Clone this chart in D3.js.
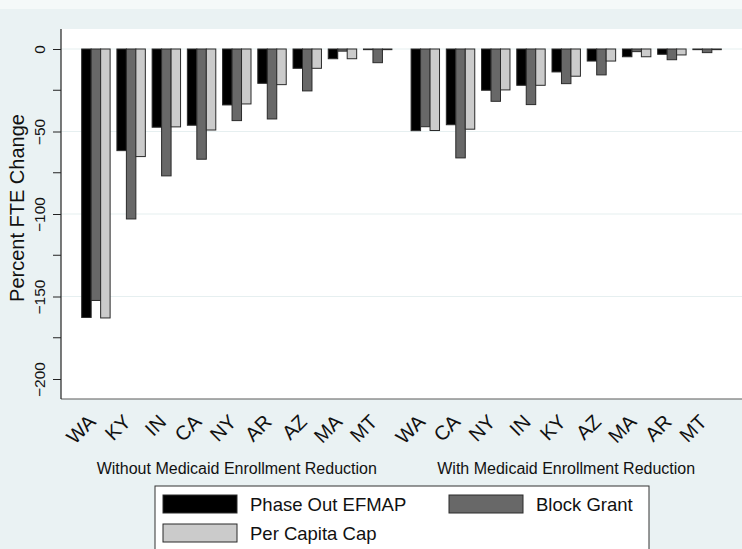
<!DOCTYPE html>
<html>
<head>
<meta charset="utf-8">
<script src="https://cdn.jsdelivr.net/npm/d3@7"></script>
<style>
  html, body { margin: 0; padding: 0; background: #eaf2f3; }
  svg { display: block; font-family: "Liberation Sans", Arial, sans-serif; }
</style>
</head>
<body>
<svg id="chart" width="742" height="549"></svg>
<script>
// Panels (scenarios) and the states shown in each, in plotted order
const panels = ["Without Medicaid Enrollment Reduction", "With Medicaid Enrollment Reduction"];
const seriesNames = ["Phase Out EFMAP", "Block Grant", "Per Capita Cap"];

const statesWithout = ["WA", "KY", "IN", "CA", "NY", "AR", "AZ", "MA", "MT"];
const phaseOutWithout = [-162.7, -61.6, -47.4, -46.2, -33.9, -20.8, -11.7, -5.9, -0.4];
const blockGrantWithout = [-152.4, -103, -76.9, -66.8, -43.4, -42.4, -25.4, -1.3, -8.3];
const perCapitaWithout = [-163, -65.2, -47.2, -49.1, -33.3, -21.6, -11.7, -5.9, -0.4];

const statesWith = ["WA", "CA", "NY", "IN", "KY", "AZ", "MA", "AR", "MT"];
const phaseOutWith = [-49.5, -45.9, -25, -22, -13.9, -7.3, -4.7, -3.2, -0.4];
const blockGrantWith = [-47.1, -66, -31.7, -33.7, -21, -15.7, -1.6, -6.5, -2.2];
const perCapitaWith = [-49.4, -48.6, -24.8, -22, -16.5, -7.3, -4.7, -3.6, -0.4];

const majorTicks = [0, -50, -100, -150, -200];
const minorTicks = [-25, -75, -125, -175];

const seriesColors = ["#000000", "#686868", "#cbcbcb"];

// Assemble per-panel rows from the arrays above
const panelData = [
  { panel: panels[0], states: statesWithout, values: [phaseOutWithout, blockGrantWithout, perCapitaWithout] },
  { panel: panels[1], states: statesWith, values: [phaseOutWith, blockGrantWith, perCapitaWith] }
];

const svg = d3.select("#chart");
const W = 742, H = 549;
const plot = { left: 61, right: 742, top: 29, bottom: 399 };

// Graph region
svg.append("rect").attr("width", W).attr("height", H).attr("fill", "#eaf2f3");
svg.append("rect").attr("width", W).attr("height", 9).attr("fill", "#f5f9f9");

// Plot region
svg.append("rect")
  .attr("x", plot.left).attr("y", plot.top)
  .attr("width", plot.right - plot.left).attr("height", plot.bottom - plot.top)
  .attr("fill", "#ffffff");

const y = d3.scaleLinear().domain([-200, 0]).range([379, 49]);

// Horizontal grid
svg.append("g").selectAll("line").data(majorTicks.filter(d => d !== -200)).join("line")
  .attr("x1", plot.left).attr("x2", plot.right)
  .attr("y1", d => y(d)).attr("y2", d => y(d))
  .attr("stroke", "#e6eff0").attr("stroke-width", 1.2);

// Nested band scales: panel -> state -> series
const xPanel = d3.scaleBand().domain(panels).range([plot.left, plot.right])
  .paddingInner(0.0583).paddingOuter(0.0628);
const xState = d3.scaleBand().domain(d3.range(9)).range([0, xPanel.bandwidth()])
  .paddingInner(0.193).paddingOuter(0);
const xSeries = d3.scaleBand().domain(d3.range(3)).range([0, xState.bandwidth()]);

panelData.forEach(pd => {
  const g = svg.append("g").attr("transform", `translate(${xPanel(pd.panel)},0)`);
  const rows = pd.states.map((s, i) => ({ state: s, i, vals: pd.values.map(arr => arr[i]) }));

  const grp = g.selectAll("g.state").data(rows).join("g")
    .attr("class", "state")
    .attr("transform", d => `translate(${xState(d.i)},0)`);

  grp.selectAll("rect").data(d => d.vals.map((v, k) => ({ v, k }))).join("rect")
    .attr("x", d => xSeries(d.k))
    .attr("width", xSeries.bandwidth())
    .attr("y", d => y(Math.max(0, d.v)))
    .attr("height", d => Math.abs(y(d.v) - y(0)))
    .attr("fill", d => seriesColors[d.k])
    .attr("stroke", "#2a2a2a")
    .attr("stroke-width", 1);

  // State labels, angled 45 degrees
  g.selectAll("text.state").data(rows).join("text")
    .attr("class", "state")
    .attr("transform", d => `translate(${xState(d.i) + xState.bandwidth() / 2 + 1},${423}) rotate(-45)`)
    .attr("text-anchor", "end")
    .attr("font-size", 20)
    .attr("fill", "#111")
    .text(d => d.state);

  // Panel caption
  g.append("text")
    .attr("x", xPanel.bandwidth() / 2)
    .attr("y", 474)
    .attr("text-anchor", "middle")
    .attr("font-size", 16)
    .attr("fill", "#111")
    .text(pd.panel);
});

// Plot bottom border
svg.append("line")
  .attr("x1", plot.left).attr("x2", plot.right)
  .attr("y1", plot.bottom).attr("y2", plot.bottom)
  .attr("stroke", "#5a5a5a").attr("stroke-width", 1.2);

// Y axis
const yAxis = d3.axisLeft(y).tickValues(majorTicks).tickSize(8).tickPadding(3).tickFormat(d3.format("d"));
const ya = svg.append("g").attr("transform", `translate(${plot.left},0)`).call(yAxis);
ya.select(".domain").remove();
ya.selectAll(".tick line").attr("stroke", "#222");
ya.selectAll(".tick text")
  .attr("font-size", 15.5)
  .attr("fill", "#111")
  .attr("text-anchor", "middle")
  .attr("x", null).attr("dy", null)
  .attr("transform", "translate(-16,0) rotate(-90)");
svg.append("g").selectAll("line").data(minorTicks).join("line")
  .attr("x1", plot.left - 8).attr("x2", plot.left)
  .attr("y1", d => y(d)).attr("y2", d => y(d))
  .attr("stroke", "#222");
svg.append("line")
  .attr("x1", plot.left).attr("x2", plot.left)
  .attr("y1", plot.top).attr("y2", plot.bottom)
  .attr("stroke", "#222").attr("stroke-width", 1.2);

// Y axis title
svg.append("text")
  .attr("transform", `translate(24,208) rotate(-90)`)
  .attr("text-anchor", "middle")
  .attr("font-size", 20)
  .attr("fill", "#111")
  .text("Percent FTE Change");

// Legend
const legend = svg.append("g");
legend.append("rect")
  .attr("x", 155).attr("y", 486).attr("width", 494).attr("height", 80)
  .attr("fill", "#ffffff").attr("stroke", "#333").attr("stroke-width", 1);
const legendItems = [
  { k: 0, x: 163, y: 495 },
  { k: 1, x: 449, y: 495 },
  { k: 2, x: 163, y: 524 }
];
legend.selectAll("rect.key").data(legendItems).join("rect")
  .attr("class", "key")
  .attr("x", d => d.x).attr("y", d => d.y)
  .attr("width", 74).attr("height", 18)
  .attr("fill", d => seriesColors[d.k])
  .attr("stroke", "#2a2a2a");
legend.selectAll("text").data(legendItems).join("text")
  .attr("x", d => d.x + 87).attr("y", d => d.y + 16)
  .attr("font-size", 18.5)
  .attr("fill", "#111")
  .text(d => seriesNames[d.k]);
</script>
</body>
</html>
